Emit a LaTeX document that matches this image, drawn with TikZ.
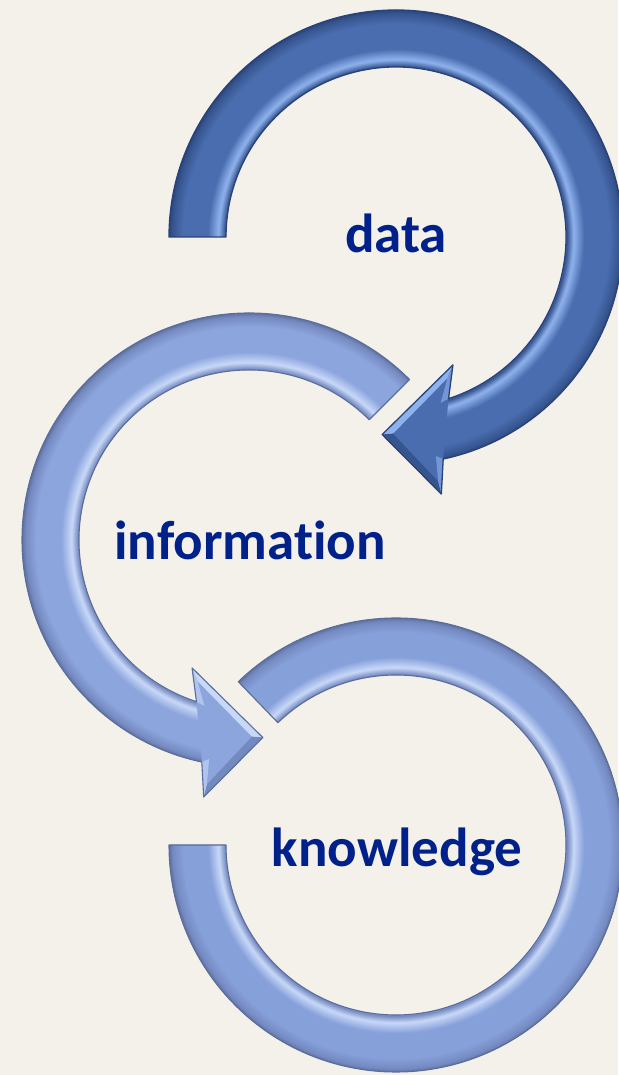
\documentclass[tikz,border=0pt]{standalone}
\usepackage{fontspec}
\setmainfont{Carlito}[Ligatures=NoCommon]
\usetikzlibrary{calc}
\definecolor{bg}{HTML}{F4F1EA}
\definecolor{navy}{RGB}{0,32,138}
\definecolor{dface}{HTML}{4A6DB0}
\definecolor{dedge}{HTML}{2A4279}
\definecolor{dlight}{HTML}{8FB2EE}
\definecolor{ddark}{HTML}{36558F}
\definecolor{lface}{HTML}{8CA5DD}
\definecolor{bface}{HTML}{86A0DA}
\definecolor{ledge}{HTML}{5B6D9A}
\definecolor{llight}{HTML}{C8D8F8}
\definecolor{ldark}{HTML}{7489C0}
\pgfdeclareradialshading{dring}{\pgfpoint{0bp}{0bp}}{color(0bp)=(dface); color(17.6bp)=(dface); color(17.8bp)=(ddark); color(18.5bp)=(dlight); color(19.6bp)=(dface); color(22.2bp)=(dface); color(23.3bp)=(ddark); color(23.7bp)=(dedge); color(25bp)=(dedge); color(50bp)=(dedge)}
\pgfdeclareradialshading{lring}{\pgfpoint{0bp}{0bp}}{color(0bp)=(lface); color(17.6bp)=(lface); color(17.8bp)=(ldark); color(18.5bp)=(llight); color(19.6bp)=(lface); color(22.2bp)=(lface); color(23.3bp)=(ldark); color(23.7bp)=(ledge); color(25bp)=(ledge); color(50bp)=(ledge)}
\pgfdeclareradialshading{bring}{\pgfpoint{0bp}{0bp}}{color(0bp)=(bface); color(17.6bp)=(bface); color(17.8bp)=(ldark); color(18.5bp)=(llight); color(19.6bp)=(bface); color(22.2bp)=(bface); color(23.3bp)=(ldark); color(23.7bp)=(ledge); color(25bp)=(ledge); color(50bp)=(ledge)}
\newcommand\TopShape{(180:227) arc[start angle=180, end angle=-78, radius=227] -- (-80:261) -- (-94:198) -- (-66:140) -- (-72:170) arc[start angle=-72, end angle=180, radius=170] -- cycle}
\newcommand\TopBand{(180:227) arc[start angle=180, end angle=-78, radius=227] -- (-72:170) arc[start angle=-72, end angle=180, radius=170] -- cycle}
\newcommand\MidShape{(45:227) arc[start angle=45, end angle=258, radius=227] -- (260:261) -- (274:198) -- (246:140) -- (252:170) arc[start angle=252, end angle=45, radius=170] -- cycle}
\newcommand\MidBand{(45:227) arc[start angle=45, end angle=258, radius=227] -- (252:170) arc[start angle=252, end angle=45, radius=170] -- cycle}
\newcommand\BotShape{(180:227) arc[start angle=180, end angle=494, radius=227] -- (494:170) arc[start angle=494, end angle=180, radius=170] -- cycle}
\tikzset{
  label text/.style={text=navy, font=\bfseries\fontsize{55}{60}\selectfont, anchor=base, inner sep=0pt},
  dark outline/.style={draw=dedge, line width=1.3pt, line join=round},
  light outline/.style={draw=ledge, line width=1.1pt, line join=round}
}
\begin{document}
\begin{tikzpicture}[x=1pt,y=1pt]
\useasboundingbox (0,0) rectangle (618,1075);
\fill[bg] (0,0) rectangle (618,1075);
% top arrow (data)
\begin{scope}[shift={(396,838)}]
  \fill[dface] \TopShape;
  \begin{scope}
    \clip \TopBand;
    \shade[shading=dring] (0,0) circle[radius=240];
  \end{scope}
  \coordinate (tL) at (-80:261);
  \coordinate (tT) at (-94:198);
  \coordinate (tU) at (-66:140);
  \coordinate (tNi) at (-72:170);
  \coordinate (tNo) at (-78:227);
  \coordinate (tG) at (29.5,-194.1);
  \coordinate (tLi) at ($(tL)!0.2!(tG)$);
  \coordinate (tTi) at ($(tT)!0.25!(tG)$);
  \coordinate (tUi) at ($(tU)!0.2!(tG)$);
  \fill[dlight] (tU) -- (tT) -- (tTi) -- (tUi) -- cycle;
  \fill[ddark] (tT) -- (tL) -- (tLi) -- (tTi) -- cycle;
  \fill[dlight!60!dface] (tU) -- (tNi) -- ($(tNi)!0.12!(tT)$) -- (tUi) -- cycle;
  \fill[dlight!60!dface] (tNo) -- (tL) -- (tLi) -- ($(tNo)!0.12!(tT)$) -- cycle;
  \draw[dark outline] \TopShape;
\end{scope}
% middle arrow (information)
\begin{scope}[shift={(249,535)}]
  \fill[lface] \MidShape;
  \begin{scope}
    \clip \MidBand;
    \shade[shading=lring] (0,0) circle[radius=240];
  \end{scope}
  \coordinate (mL) at (260:261);
  \coordinate (mT) at (274:198);
  \coordinate (mU) at (246:140);
  \coordinate (mNi) at (252:170);
  \coordinate (mNo) at (258:227);
  \coordinate (mG) at (-29.5,-194.1);
  \coordinate (mLi) at ($(mL)!0.2!(mG)$);
  \coordinate (mTi) at ($(mT)!0.25!(mG)$);
  \coordinate (mUi) at ($(mU)!0.2!(mG)$);
  \fill[llight] (mU) -- (mT) -- (mTi) -- (mUi) -- cycle;
  \fill[ldark] (mT) -- (mL) -- (mLi) -- (mTi) -- cycle;
  \fill[llight!60!lface] (mU) -- (mNi) -- ($(mNi)!0.12!(mT)$) -- (mUi) -- cycle;
  \fill[llight!60!lface] (mNo) -- (mL) -- (mLi) -- ($(mNo)!0.12!(mT)$) -- cycle;
  \draw[light outline] \MidShape;
\end{scope}
% bottom arrow (knowledge)
\begin{scope}[shift={(396,230)}]
  \fill[bface] \BotShape;
  \begin{scope}
    \clip \BotShape;
    \shade[shading=bring] (0,0) circle[radius=240];
  \end{scope}
  \draw[light outline] \BotShape;
\end{scope}
\node[label text] (data) at (396,822) {data};
\node[label text] (info) at (250,515) {information};
\node[label text] (know) at (397,208) {knowledge};
\end{tikzpicture}
\end{document}
